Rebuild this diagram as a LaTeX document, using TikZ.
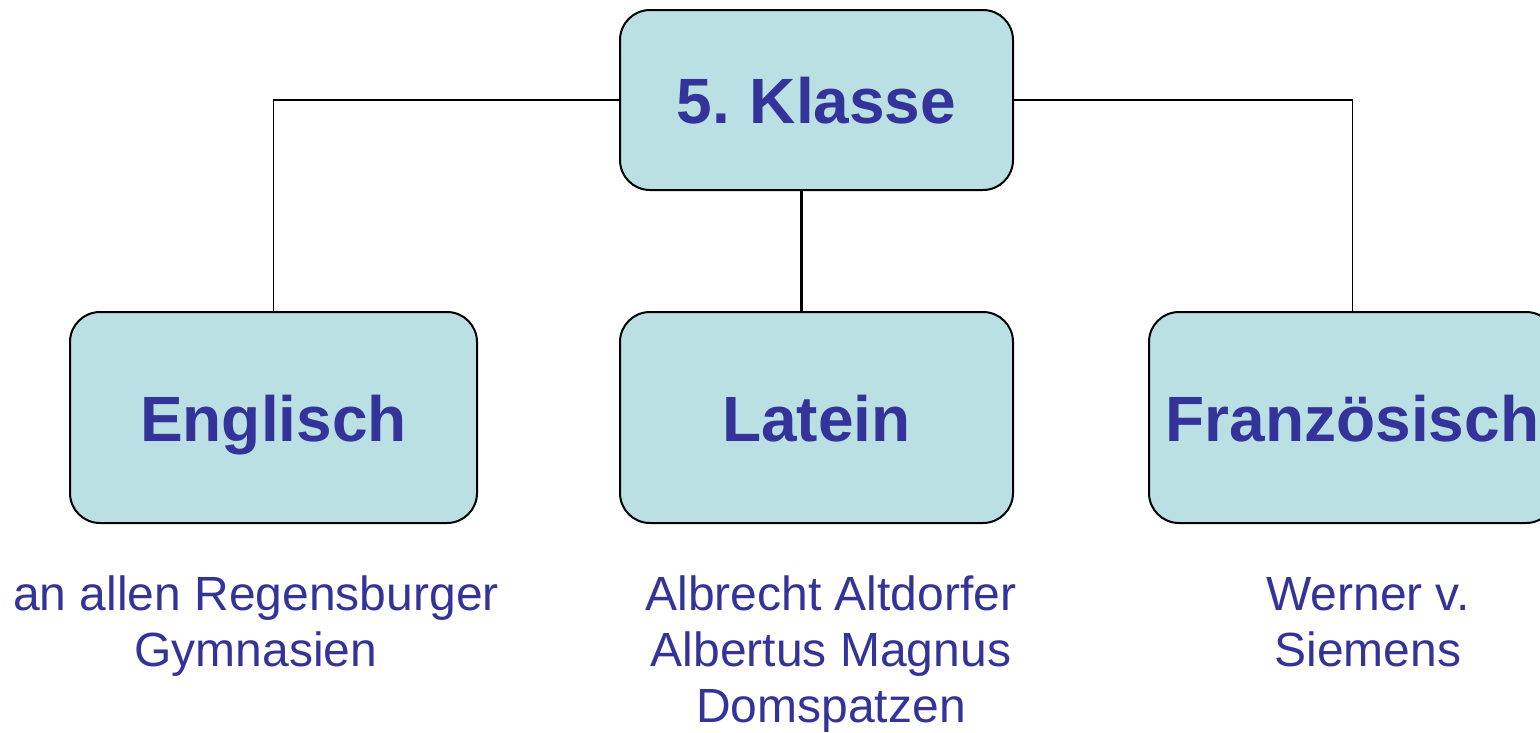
\documentclass[tikz,border=0pt]{standalone}
\usepackage{fontspec}
\setmainfont{Liberation Sans}
\definecolor{boxfill}{RGB}{186,224,227}
\definecolor{txt}{RGB}{51,51,153}
\begin{document}
\begin{tikzpicture}[x=1pt,y=-1pt,
 box/.style={draw=black, line width=2pt, fill=boxfill, rounded corners=30pt, text=txt,
   font=\fontsize{64}{70}\selectfont\bfseries, inner sep=0pt, text height=47pt, text depth=0pt},
 link/.style={draw=black, line width=1.6pt},
 note/.style={text=txt, font=\fontsize{48}{56}\selectfont, align=center, inner sep=0pt, anchor=base}]
\useasboundingbox (0,0) rectangle (1540,732);
\node[box, minimum width=393pt, minimum height=180pt] (top) at (816.5,100) {5.\hspace{-4pt} Klasse};
\node[box, minimum width=407pt, minimum height=211pt] (eng) at (273.5,417.5) {Englisch};
\node[box, minimum width=393pt, minimum height=211pt] (lat) at (816.5,417.5) {Latein};
\node[box, minimum width=407pt, minimum height=211pt] (fra) at (1352.5,417.5) {Französisch};
\coordinate (mid) at (801,250);
\draw[link] (top.west) -| (eng.north);
\draw[link] (top.east) -| (fra.north);
\draw[link, line width=3pt] (mid |- top.south) -- (mid |- lat.north);
\node[note] (n1) at (256,666) {an allen Regensburger\\Gymnasien};
\node[note] (n2) at (831,722) {Albrecht Altdorfer\\Albertus Magnus\\Domspatzen};
\node[note] (n3) at (1368,666) {Werner v.\\Siemens};
\end{tikzpicture}
\end{document}
